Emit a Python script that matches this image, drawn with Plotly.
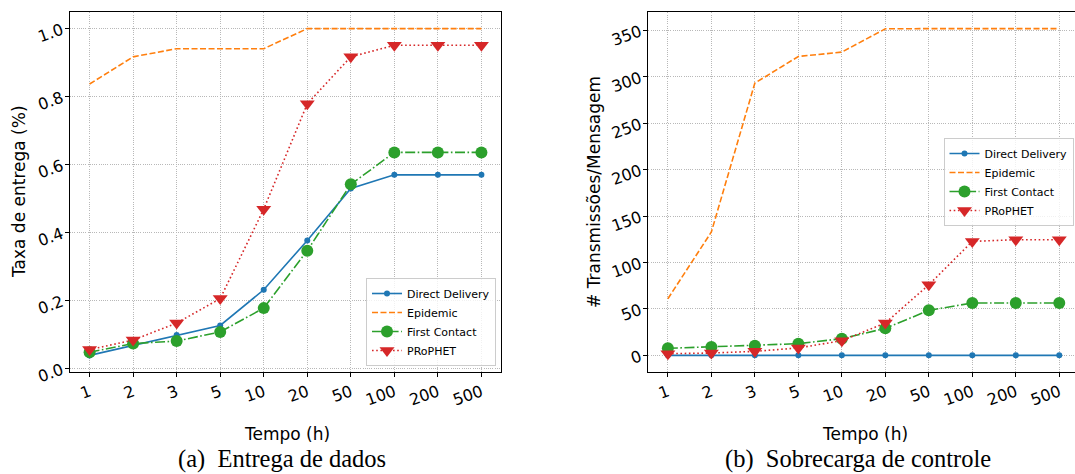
import plotly.graph_objects as go

W, H = 1075, 474

categories = ["1", "2", "3", "5", "10", "20", "50", "100", "200", "500"]
series_names = ["Direct Delivery", "Epidemic", "First Contact", "PRoPHET"]

deliv_direct = [0.039, 0.068, 0.099, 0.127, 0.232, 0.377, 0.530, 0.570, 0.570, 0.570]
deliv_epidemic = [0.837, 0.917, 0.941, 0.941, 0.941, 1.0, 1.0, 1.0, 1.0, 1.0]
deliv_first = [0.048, 0.074, 0.081, 0.108, 0.178, 0.347, 0.542, 0.636, 0.636, 0.636]
deliv_prophet = [0.056, 0.084, 0.134, 0.206, 0.469, 0.779, 0.917, 0.951, 0.951, 0.951]

over_direct = [0, 0, 0, 0, 0, 0, 0, 0, 0, 0]
over_epidemic = [61, 132.9, 293.3, 322, 326.7, 351.8, 352, 352, 352, 352]
over_first = [7.6, 9, 10.4, 12.6, 18, 29.1, 48.5, 56.4, 56.4, 56.4]
over_prophet = [1.8, 2.5, 4.3, 8, 15.8, 34.9, 76, 122.8, 124.6, 124.6]

left_yticks = [0.0, 0.2, 0.4, 0.6, 0.8, 1.0]
right_yticks = [0, 50, 100, 150, 200, 250, 300, 350]


def px_x(p):
    return p / W


def px_y(p):
    return 1 - p / H


FONT = "DejaVu Sans"
colors = ["#1f77b4", "#ff7f0e", "#2ca02c", "#d62728"]
LW = 1.6
styles = [
    dict(line=dict(color=colors[0], width=LW, dash="solid"),
         marker=dict(symbol="circle", size=6, color=colors[0]), mode="lines+markers"),
    dict(line=dict(color=colors[1], width=LW, dash="6px,2.5px"), mode="lines"),
    dict(line=dict(color=colors[2], width=LW, dash="10px,2.5px,1.6px,2.5px"),
         marker=dict(symbol="circle", size=12, color=colors[2]), mode="lines+markers"),
    dict(line=dict(color=colors[3], width=LW, dash="1.6px,2.6px"),
         marker=dict(symbol="triangle-down", size=13, color=colors[3]), mode="lines+markers"),
]

fig = go.Figure()

left_data = [deliv_direct, deliv_epidemic, deliv_first, deliv_prophet]
right_data = [over_direct, over_epidemic, over_first, over_prophet]

for name, ys, st in zip(series_names, left_data, styles):
    fig.add_trace(go.Scatter(x=categories, y=ys, name=name, xaxis="x", yaxis="y",
                             legend="legend", **st))
for name, ys, st in zip(series_names, right_data, styles):
    fig.add_trace(go.Scatter(x=categories, y=ys, name=name, xaxis="x2", yaxis="y2",
                             legend="legend2", **st))

common_axis = dict(
    showline=True, linecolor="black", linewidth=1,
    ticks="outside", ticklen=4, tickwidth=1, tickcolor="black",
    showgrid=True, gridcolor="#b8b8b8", gridwidth=0.8, griddash="1px,1.2px",
    zeroline=False, automargin=False,
    tickfont=dict(family=FONT, size=16, color="black"),
    tickangle=-20,
)

legend_style = dict(
    xanchor="right", yanchor="bottom",
    bgcolor="rgba(255,255,255,0.8)", bordercolor="#cccccc", borderwidth=1,
    font=dict(family=FONT, size=11, color="black"), itemwidth=30, tracegroupgap=0,
)

fig.update_layout(
    width=W, height=H,
    margin=dict(l=0, r=0, t=0, b=0),
    paper_bgcolor="white", plot_bgcolor="white",
    font=dict(family=FONT, color="black"),
    xaxis=dict(domain=[px_x(70), px_x(501)], type="category",
               range=[-0.45, 9.45], anchor="y", mirror=True, **common_axis),
    yaxis=dict(domain=[px_y(371.7), px_y(12.3)], range=[-0.009, 1.048],
               tickvals=left_yticks, ticktext=[f"{v:.1f}" for v in left_yticks],
               anchor="x", mirror=True, **common_axis),
    xaxis2=dict(domain=[px_x(648.3), 1.0], type="category",
                range=[-0.45, -0.45 + (1075 - 648.3) / 43.49], anchor="y2",
                mirror=True, **common_axis),
    yaxis2=dict(domain=[px_y(371.7), px_y(12.3)], range=[-17.6, 369.6],
                tickvals=right_yticks, anchor="x2", mirror=False, **common_axis),
    legend=dict(x=px_x(496), y=px_y(366), **legend_style),
    legend2=dict(x=px_x(1073.5), y=px_y(226), **legend_style),
    showlegend=True,
)

annotations = [
    dict(text="Tempo (h)", x=px_x(287), y=px_y(434), font=dict(size=17)),
    dict(text="Tempo (h)", x=px_x(865), y=px_y(434), font=dict(size=17)),
    dict(text="Taxa de entrega (%)", x=px_x(19), y=px_y(192), textangle=-90,
         font=dict(size=17)),
    dict(text="# Transmissões/Mensagem", x=px_x(594), y=px_y(192), textangle=-90,
         font=dict(size=17)),
    dict(text="(a)\u00a0\u00a0Entrega de dados", x=px_x(282), y=px_y(459),
         font=dict(size=24.5, family="Liberation Serif")),
    dict(text="(b)\u00a0\u00a0Sobrecarga de controle", x=px_x(858), y=px_y(459),
         font=dict(size=24.5, family="Liberation Serif")),
]
for a in annotations:
    a.update(xref="paper", yref="paper", showarrow=False, xanchor="center", yanchor="middle",
             borderpad=0)
    a["font"].setdefault("family", FONT)
    a["font"]["color"] = "black"
fig.update_layout(annotations=annotations)

fig.write_html(
    "out.html",
    config={"displayModeBar": False},
    post_script="document.body.style.margin='0';document.body.style.padding='0';"
                "document.documentElement.style.overflow='hidden';",
)
